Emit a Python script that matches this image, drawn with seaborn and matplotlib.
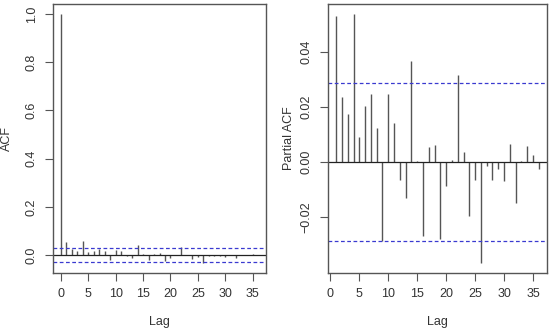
import numpy as np
import matplotlib
matplotlib.use("Agg")
import matplotlib.pyplot as plt
import seaborn as sns

# ACF values (lag 0..36) and PACF values (lag 1..36)
acf_lags = list(range(0, 37))
acf_vals = [1.0, 0.054, 0.026, 0.019, 0.057, 0.012, 0.019, 0.026, 0.017, -0.022,
            0.022, 0.017, -0.003, -0.012, 0.040, 0.003, -0.019, 0.005, 0.010, -0.025,
            -0.011, 0.002, 0.033, 0.001, -0.017, -0.008, -0.033, -0.003, -0.003, -0.004,
            -0.008, 0.001, -0.011, 0.000, 0.001, 0.005, 0.001]

pacf_lags = list(range(1, 37))
pacf_vals = [0.0531, 0.0235, 0.0173, 0.0539, 0.0091, 0.0203, 0.0246, 0.0125, -0.0288,
             0.0249, 0.0141, -0.0065, -0.0132, 0.0369, 0.0002, -0.0268, 0.0056, 0.0061,
             -0.0280, -0.0088, 0.0008, 0.0316, 0.0037, -0.0198, -0.0064, -0.0368, -0.0016,
             -0.0065, -0.0025, -0.0071, 0.0064, -0.0148, 0.0004, 0.0060, 0.0025, -0.0025]

ci = 0.0286

sns.set_style("white")
plt.rcParams["font.family"] = ["Liberation Sans", "DejaVu Sans"]

fig = plt.figure(figsize=(5.5, 3.3), dpi=100)
ax1 = fig.add_axes([0.0964, 0.1727, 0.3873, 0.8152])
ax2 = fig.add_axes([0.5964, 0.1727, 0.398, 0.8152])

text_col = "#333333"
box_col = "#555555"
stem_col = "#555555"
ci_col = "#3a3ad0"


def style(ax, yticks, yfmt, ylabel, ylab_x):
    for s in ax.spines.values():
        s.set_color(box_col)
        s.set_linewidth(1.0)
    ax.set_xticks([0, 5, 10, 15, 20, 25, 30, 35])
    ax.set_yticks(yticks)
    ax.set_yticklabels([yfmt.format(v).replace("-", "\u2212") for v in yticks],
                       rotation=90, va="center")
    ax.tick_params(axis="both", direction="out", length=6, width=0.8,
                   color=box_col, labelcolor=text_col, labelsize=9, pad=5,
                   left=True, bottom=True)
    ax.set_xlabel("Lag", fontsize=9, color=text_col, va="center")
    ax.xaxis.set_label_coords(0.5, -0.182)
    ax.set_ylabel(ylabel, fontsize=9, color=text_col, va="center")
    ax.yaxis.set_label_coords(ylab_x, 0.5)


# ACF panel
ax1.vlines(acf_lags, 0, acf_vals, color=stem_col, linewidth=1.0)
ax1.axhline(0, color="#222222", linewidth=0.9)
ax1.axhline(ci, color=ci_col, linestyle=(0, (3, 2)), linewidth=0.9)
ax1.axhline(-ci, color=ci_col, linestyle=(0, (3, 2)), linewidth=0.9)
lo, hi = min(-ci, min(acf_vals)), 1.0
pad = 0.04 * (hi - lo)
ax1.set_ylim(lo - pad, hi + pad)
ax1.set_xlim(-0.04 * 36, 36 + 0.04 * 36)
style(ax1, [0.0, 0.2, 0.4, 0.6, 0.8, 1.0], "{:.1f}", "ACF", -0.216)

# PACF panel
ax2.vlines(pacf_lags, 0, pacf_vals, color=stem_col, linewidth=1.0)
ax2.axhline(0, color="#222222", linewidth=0.9)
ax2.axhline(ci, color=ci_col, linestyle=(0, (3, 2)), linewidth=0.9)
ax2.axhline(-ci, color=ci_col, linestyle=(0, (3, 2)), linewidth=0.9)
lo, hi = min(-ci, min(pacf_vals)), max(ci, max(pacf_vals))
pad = 0.04 * (hi - lo)
ax2.set_ylim(lo - pad, hi + pad)
ax2.set_xlim(1 - 0.04 * 35, 36 + 0.04 * 35)
style(ax2, [-0.02, 0.0, 0.02, 0.04], "{:.2f}", "Partial ACF", -0.178)

fig.savefig("out.png", dpi=100)
